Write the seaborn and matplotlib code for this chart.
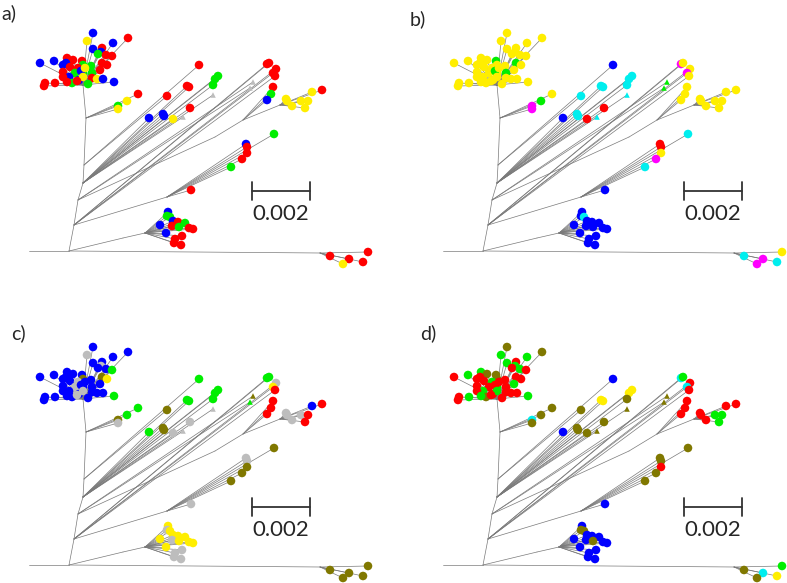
import pandas as pd
import matplotlib.pyplot as plt
import seaborn as sns

sns.set_style("white")
plt.rcParams['font.family'] = ['Lato', 'DejaVu Sans']

# Tree (pixels from the panel corner, y downwards).
# Internal nodes
node_names = ['root', 'out', 't1', 't2', 't3', 't4', 't5', 'top', 'r1', 'r2', 'y0', 'm0', 'b1', 'b0', 'br0']
node_x = [69, 29, 74, 78, 83, 84, 86, 83, 215, 243, 280, 167, 123, 145, 320]
node_y = [251, 251, 225, 200, 183, 165, 118, 85, 137, 120, 105, 197, 238, 233, 253]
node_parent = [None, 'root', 'root', 't1', 't2', 't3', 't4', 't5', 't2', 'r1', 'r2', 't1', 'root', 'b1', 'root']

# Leaves, clade by clade
top_x = [93, 128, 87, 113, 93, 102, 101, 98, 106, 112, 67, 73, 82, 40, 54, 63, 66, 102, 107, 83, 91, 70, 78,
         63, 75, 83, 92, 81, 100, 85, 69, 79, 63, 92, 83, 97, 72, 88, 103, 114, 45, 44, 55, 67, 77]
top_y = [33, 38, 41, 43, 49, 48, 52, 54, 55, 56, 58, 60, 61, 63, 61, 65, 63, 63, 65, 65, 66, 67, 68,
         72, 73, 73, 73, 71, 70, 68, 77, 80, 77, 78, 77, 79, 83, 84, 79, 82, 83, 86, 83, 82, 81]
small_x = [138, 127, 118, 118]
small_y = [94, 101, 106, 109]
fan_x = [199, 167, 218, 215, 213, 187, 189, 149, 163, 164, 173, 190, 213, 183]
fan_y = [65, 96, 76, 79, 85, 86, 87, 118, 114, 116, 119, 108, 95, 117]
fan_parent = ['t4', 't4'] + ['t3'] * 12
fan_marker = ['o'] * 12 + ['^', '^']
right_x = [267, 269, 276, 273, 275, 273, 271, 267, 253, 250]
right_y = [64, 63, 69, 73, 76, 87, 94, 100, 82, 88]
right_parent = ['t1'] * 5 + ['r2'] * 3 + ['t2', 't2']
right_marker = ['o'] * 8 + ['^', '^']
yel_x = [286, 287, 292, 301, 308, 305, 312, 322]
yel_y = [99, 101, 106, 101, 101, 108, 92, 90]
mid_x = [274, 246, 247, 247, 242, 231, 191]
mid_y = [134, 144, 147, 153, 159, 167, 190]
low_x = [168, 167, 170, 173, 178, 185, 160, 172, 179, 189, 193, 166, 182, 175, 174, 181]
low_y = [212, 216, 217, 221, 222, 223, 225, 226, 227, 228, 229, 233, 236, 239, 243, 245]
br_x = [368, 330, 349, 343, 363]
br_y = [252, 256, 259, 264, 262]

# Leaf colours per panel (r red, b blue, g green, y yellow, c cyan, m magenta, s grey, o olive)
# clade order: top | small | fan | right | yel | mid | low | br
colours_a = ("brybb rbgrr rrrbb bbrrg grrrg ggbry bbrry yggbb rrrrr|rygy|rrgggrrbbbyrss|rrrrrrgbss|"
             "yyyyyyyr|gbrrrgr|bggbrgbrgrrbrrrr|rrryr")
colours_b = ("yyyyy yyyyy yygyy yygyy yyyyy yggyy yyyyy yyyyy yyyyy|ygmm|bccccccbccrrcc|myymyyyygg|"
             "yyyyyyyy|crrymcb|bbcbbbbbbbbbbbbb|ycmmc")
colours_c = ("bbsbb bsbbg bbbbb bboyo bbsbs bbbbb bbbbs bbbbg bbbbs|ggos|goggggggoossss|ggsyrrrrog|"
             "ssssrrbr|ossooos|ysyyyyysyyyyssss|ooooo")
colours_d = ("ooggg rgrgr goorg rrrro rrgrr grrgr grrrg rorrg rrggr|ooco|boyyoyyboooooo|cgrcrrrroo|"
             "rrrgggrr|oooroob|boobbbbbobbbbbbb|gocoy")

palette = {'r': '#ff0000', 'b': '#0000ff', 'g': '#00ee00', 'y': '#ffee00',
           'c': '#00eeee', 'm': '#ff00ff', 's': '#bdbdbd', 'o': '#807800'}

panel_labels = ['a)', 'b)', 'c)', 'd)']
scale_len = 58.3          # pixels for 0.002 substitutions/site
scale_text = '0.002'

# assemble leaf table
xs = top_x + small_x + fan_x + right_x + yel_x + mid_x + low_x + br_x
ys = top_y + small_y + fan_y + right_y + yel_y + mid_y + low_y + br_y
parents = (['top'] * len(top_x) + ['t5'] * len(small_x) + fan_parent + right_parent +
           ['y0'] * len(yel_x) + ['m0'] * len(mid_x) + ['b0'] * len(low_x) + ['br0'] * len(br_x))
markers = (['o'] * (len(top_x) + len(small_x)) + fan_marker + right_marker +
           ['o'] * (len(yel_x) + len(mid_x) + len(low_x) + len(br_x)))

leaves = pd.DataFrame({'x': xs, 'y': ys, 'parent': parents, 'marker': markers})
for key, s in zip('abcd', [colours_a, colours_b, colours_c, colours_d]):
    cols = list(s.replace(' ', '').replace('|', ''))
    assert len(cols) == len(leaves), (key, len(cols), len(leaves))
    leaves[key] = cols

# edge table
pos = dict(zip(node_names, zip(node_x, node_y)))
rows = []
eid = 0
for n, p in zip(node_names, node_parent):
    if p is None:
        continue
    rows += [dict(edge=eid, x=pos[p][0], y=pos[p][1]), dict(edge=eid, x=pos[n][0], y=pos[n][1])]
    eid += 1
for x, y, p in zip(leaves.x, leaves.y, leaves.parent):
    rows += [dict(edge=eid, x=pos[p][0], y=pos[p][1]), dict(edge=eid, x=x, y=y)]
    eid += 1
edges = pd.DataFrame(rows)

W, H = 787, 583
fig = plt.figure(figsize=(W / 100, H / 100), dpi=100)

# panel boxes in pixels: left, top, width, height
boxes = [(0, 0, 414, 314), (414, 0, 373, 314), (0, 314, 414, 269), (414, 314, 373, 269)]
bar_pos = [(252, 191), (270, 191), (252, 193), (270, 193)]
label_pos = [(9, 13), (418, 19), (18, 333), (428, 333)]

for i, key in enumerate('abcd'):
    l, t, w, h = boxes[i]
    ax = fig.add_axes([l / W, 1 - (t + h) / H, w / W, h / H])
    sns.lineplot(data=edges, x='x', y='y', units='edge', estimator=None, sort=False,
                 color='#7a7a7a', linewidth=0.5, ax=ax, legend=False)
    circ = leaves[leaves.marker == 'o']
    tri = leaves[leaves.marker == '^']
    sns.scatterplot(data=circ, x='x', y='y', hue=key, palette=palette, s=38, linewidth=0,
                    marker='o', ax=ax, legend=False, zorder=3)
    sns.scatterplot(data=tri, x='x', y='y', hue=key, palette=palette, s=16, linewidth=0,
                    marker='^', ax=ax, legend=False, zorder=3)

    bx, by = bar_pos[i]
    ax.plot([bx, bx + scale_len], [by, by], color='#333333', lw=1.3)
    ax.plot([bx, bx], [by - 9, by + 9], color='#333333', lw=1.3)
    ax.plot([bx + scale_len, bx + scale_len], [by - 9, by + 9], color='#333333', lw=1.3)
    ax.text(bx + scale_len / 2, by + 23, scale_text, ha='center', va='center', fontsize=16)

    ax.set_xlim(0, w)
    ax.set_ylim(h, 0)
    ax.axis('off')

    lx, ly = label_pos[i]
    fig.text(lx / W, 1 - ly / H, panel_labels[i], ha='center', va='center', fontsize=14)

fig.savefig('out.png', dpi=100)
